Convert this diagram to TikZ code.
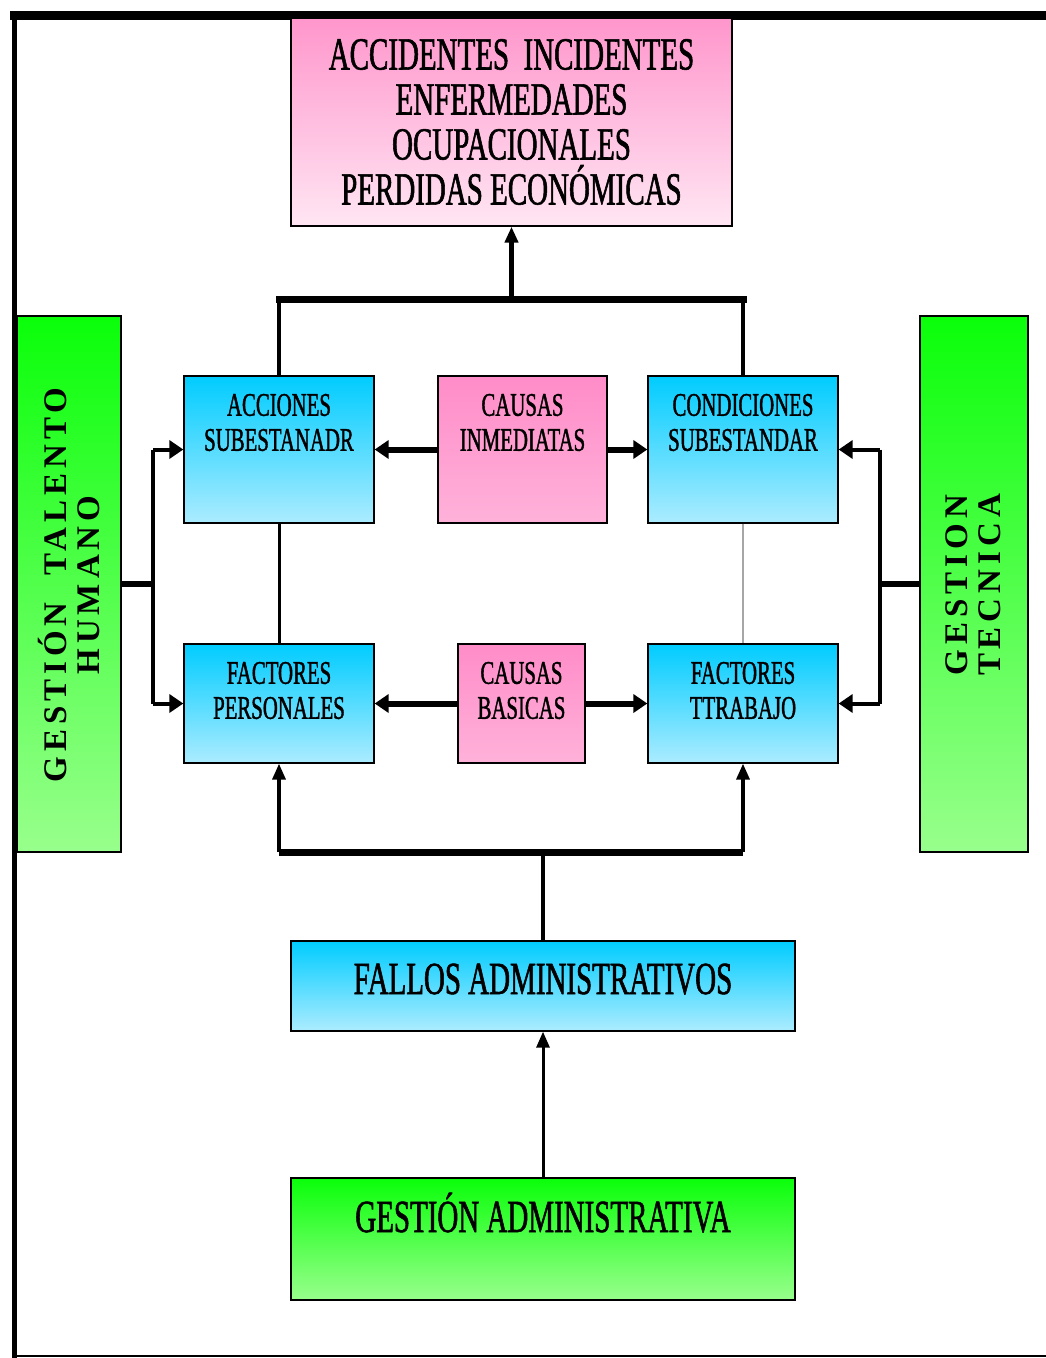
\documentclass[tikz,border=0pt]{standalone}
\usepackage{fontspec}
\setmainfont{Liberation Serif}
\newfontfamily\cnd[FakeStretch=0.63,FakeBold=1.2]{Liberation Serif}
\newfontfamily\widefont[LetterSpace=15]{Liberation Serif}
\usetikzlibrary{arrows.meta,calc}
\definecolor{cyanT}{RGB}{0,204,255}
\definecolor{cyanB}{RGB}{172,236,255}
\definecolor{pinkT}{RGB}{255,150,204}
\definecolor{pinkB}{RGB}{255,230,243}
\definecolor{pmT}{RGB}{255,140,200}
\definecolor{pmB}{RGB}{255,178,218}
\definecolor{grT}{RGB}{10,255,10}
\definecolor{grB}{RGB}{152,255,140}
\tikzset{
  box/.style={draw=black, line width=1.3pt, rectangle, inner sep=0pt},
  cyanbox/.style={box, top color=cyanT, bottom color=cyanB},
  pinkbox/.style={box, top color=pinkT, bottom color=pinkB},
  pmbox/.style={box, top color=pmT, bottom color=pmB},
  greenbox/.style={box, top color=grT, bottom color=grB},
  smalltxt/.style={font=\cnd\fontsize{33}{35}\selectfont, align=center, inner sep=0pt},
  bigtxt/.style={font=\cnd\fontsize{46}{45}\selectfont, align=center, inner sep=0pt},
  sidetxt/.style={font=\widefont\bfseries\fontsize{33}{33}\selectfont, align=center, inner sep=0pt, rotate=90},
  tipA/.style={-{Triangle[length=14pt,width=18pt]}},
  tipB/.style={-{Triangle[length=16pt,width=13pt]}},
}
\begin{document}
\begin{tikzpicture}[x=1pt,y=-1pt]
\useasboundingbox (0,0) rectangle (1046,1358);
\fill[white] (0,0) rectangle (1046,1358);
% frame
\draw[line width=9pt] (10,15) -- (1046,15);
\draw[line width=5pt] (14,11) -- (14,1358);
\draw[line width=2pt] (14,1356) -- (1046,1356);

% boxes
\node (top) [pinkbox, minimum width=441pt, minimum height=208pt] at (511.5,122) {};
\node (topT) [bigtxt] at (511.5,122) {ACCIDENTES\ \ INCIDENTES\\ENFERMEDADES\\OCUPACIONALES\\PERDIDAS ECONÓMICAS};

\node (acc) [cyanbox, minimum width=190pt, minimum height=147pt] at (279,449.5) {};
\node (accT) [smalltxt] at (279,422.5) {ACCIONES\\SUBESTANADR};
\node (ci) [pmbox, minimum width=169pt, minimum height=147pt] at (522.5,449.5) {};
\node (ciT) [smalltxt] at (522.5,422.5) {CAUSAS\\INMEDIATAS};
\node (cond) [cyanbox, minimum width=190pt, minimum height=147pt] at (743,449.5) {};
\node (condT) [smalltxt] at (743,422.5) {CONDICIONES\\SUBESTANDAR};

\node (fp) [cyanbox, minimum width=190pt, minimum height=119pt] at (279,703.5) {};
\node (fpT) [smalltxt] at (279,690.5) {FACTORES\\PERSONALES};
\node (cb) [pmbox, minimum width=127pt, minimum height=119pt] at (521.5,703.5) {};
\node (cbT) [smalltxt] at (521.5,690.5) {CAUSAS\\BASICAS};
\node (ft) [cyanbox, minimum width=190pt, minimum height=119pt] at (743,703.5) {};
\node (ftT) [smalltxt] at (743,690.5) {FACTORES\\TTRABAJO};

\node (gth) [greenbox, minimum width=104pt, minimum height=536pt] at (69,584) {};
\node (gthT) [sidetxt] at (69,585) {GESTIÓN\ \ TALENTO\\HUMANO};
\node (gt) [greenbox, minimum width=108pt, minimum height=536pt] at (974,584) {};
\node (gtT) [sidetxt] at (973,585) {GESTION\\TECNICA};

\node (fallos) [cyanbox, minimum width=504pt, minimum height=90pt] at (543,986) {};
\node (fallosT) [bigtxt, anchor=base] at (543,994) {FALLOS ADMINISTRATIVOS};
\node (gadm) [greenbox, minimum width=504pt, minimum height=122pt] at (543,1239) {};
\node (gadmT) [bigtxt, anchor=base] at (543,1232) {GESTIÓN ADMINISTRATIVA};

% top connectors
\coordinate (jt) at (511.5,300);
\draw[line width=4pt] (acc.north) -- ++(0,-76) coordinate (accUp);
\draw[line width=4pt] (cond.north) -- ++(0,-76) coordinate (condUp);
\draw[line width=7pt, line cap=rect] (accUp) -- (condUp);
\draw[line width=5pt, tipB] (jt) -- (top.south);

% causas inmediatas
\draw[line width=6pt, tipA] (ci.west) -- (acc.east);
\draw[line width=6pt, tipA] (ci.east) -- (cond.west);
% causas basicas
\draw[line width=6pt, tipA] (cb.west) -- (fp.east);
\draw[line width=6pt, tipA] (cb.east) -- (ft.west);

% vertical links
\draw[line width=3pt] (acc.south) -- (fp.north);
\draw[line width=1.5pt, gray!70] (cond.south) -- (ft.north);

% left side
\coordinate (lj) at (153,584);
\draw[line width=6pt] (gth.east) -- (lj);
\draw[line width=4pt, tipA] (lj |- acc.west) -- (acc.west);
\draw[line width=4pt, tipA] (lj |- fp.west) -- (fp.west);
\draw[line width=4pt] (lj |- acc.west) -- (lj |- fp.west);
% right side
\coordinate (rj) at (880,584);
\draw[line width=6pt] (gt.west) -- (rj);
\draw[line width=4pt, tipA] (rj |- cond.east) -- (cond.east);
\draw[line width=4pt, tipA] (rj |- ft.east) -- (ft.east);
\draw[line width=4pt] (rj |- cond.east) -- (rj |- ft.east);

% bottom bracket
\coordinate (bj) at (543,852);
\draw[line width=7pt] (fp.south |- bj) -- (ft.south |- bj);
\draw[line width=3.5pt, tipB] (fp.south |- bj) -- (fp.south);
\draw[line width=3.5pt, tipB] (ft.south |- bj) -- (ft.south);
\draw[line width=4pt] (bj) -- (fallos.north);

\draw[line width=3pt, tipB] (gadm.north) -- (fallos.south);
\end{tikzpicture}
\end{document}
